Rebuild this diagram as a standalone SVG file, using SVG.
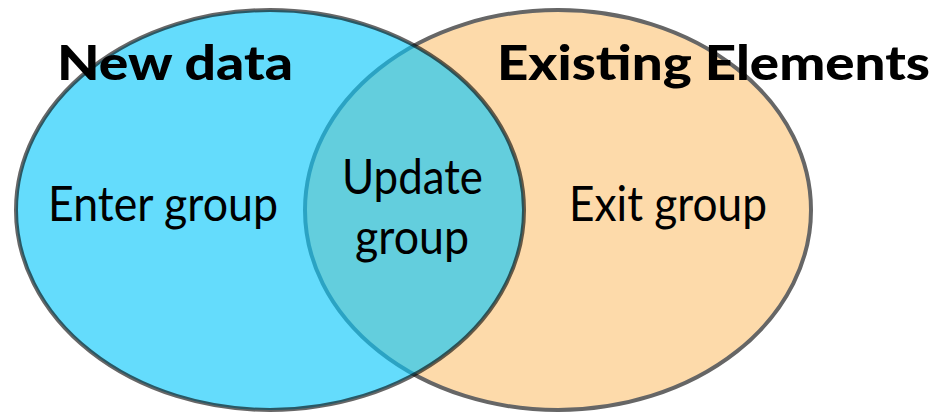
<svg xmlns="http://www.w3.org/2000/svg" width="935" height="412" viewBox="0 0 935 412">
<style>
.title{font-family:Lato,"Liberation Sans",sans-serif;font-weight:900;font-size:47px;fill:#000}
.lbl{font-family:Lato,"Liberation Sans",sans-serif;font-weight:400;font-size:48px;fill:#000}
</style>
<rect width="935" height="412" fill="#ffffff"/>
<g id="existing-elements">
<ellipse cx="558" cy="210" rx="253" ry="200" fill="#FDDAAA" stroke="#666666" stroke-width="4"/>
</g>
<g id="new-data">
<ellipse cx="270" cy="210" rx="254" ry="200" fill="#0AC8FB" fill-opacity="0.63" stroke="#000000" stroke-opacity="0.6" stroke-width="4"/>
</g>
<g id="connectors"></g>
<g id="labels">
<text class="title" x="57" y="80" textLength="236" lengthAdjust="spacingAndGlyphs">New data</text>
<text class="title" x="497" y="80" textLength="433" lengthAdjust="spacingAndGlyphs">Existing Elements</text>
<text class="lbl" x="48" y="221" textLength="230" lengthAdjust="spacingAndGlyphs">Enter group</text>
<text class="lbl" x="569" y="221" textLength="198" lengthAdjust="spacingAndGlyphs">Exit group</text>
<text class="lbl" x="342" y="194" textLength="141" lengthAdjust="spacingAndGlyphs">Update</text>
<text class="lbl" x="355" y="254" textLength="114" lengthAdjust="spacingAndGlyphs">group</text>
</g>
</svg>
